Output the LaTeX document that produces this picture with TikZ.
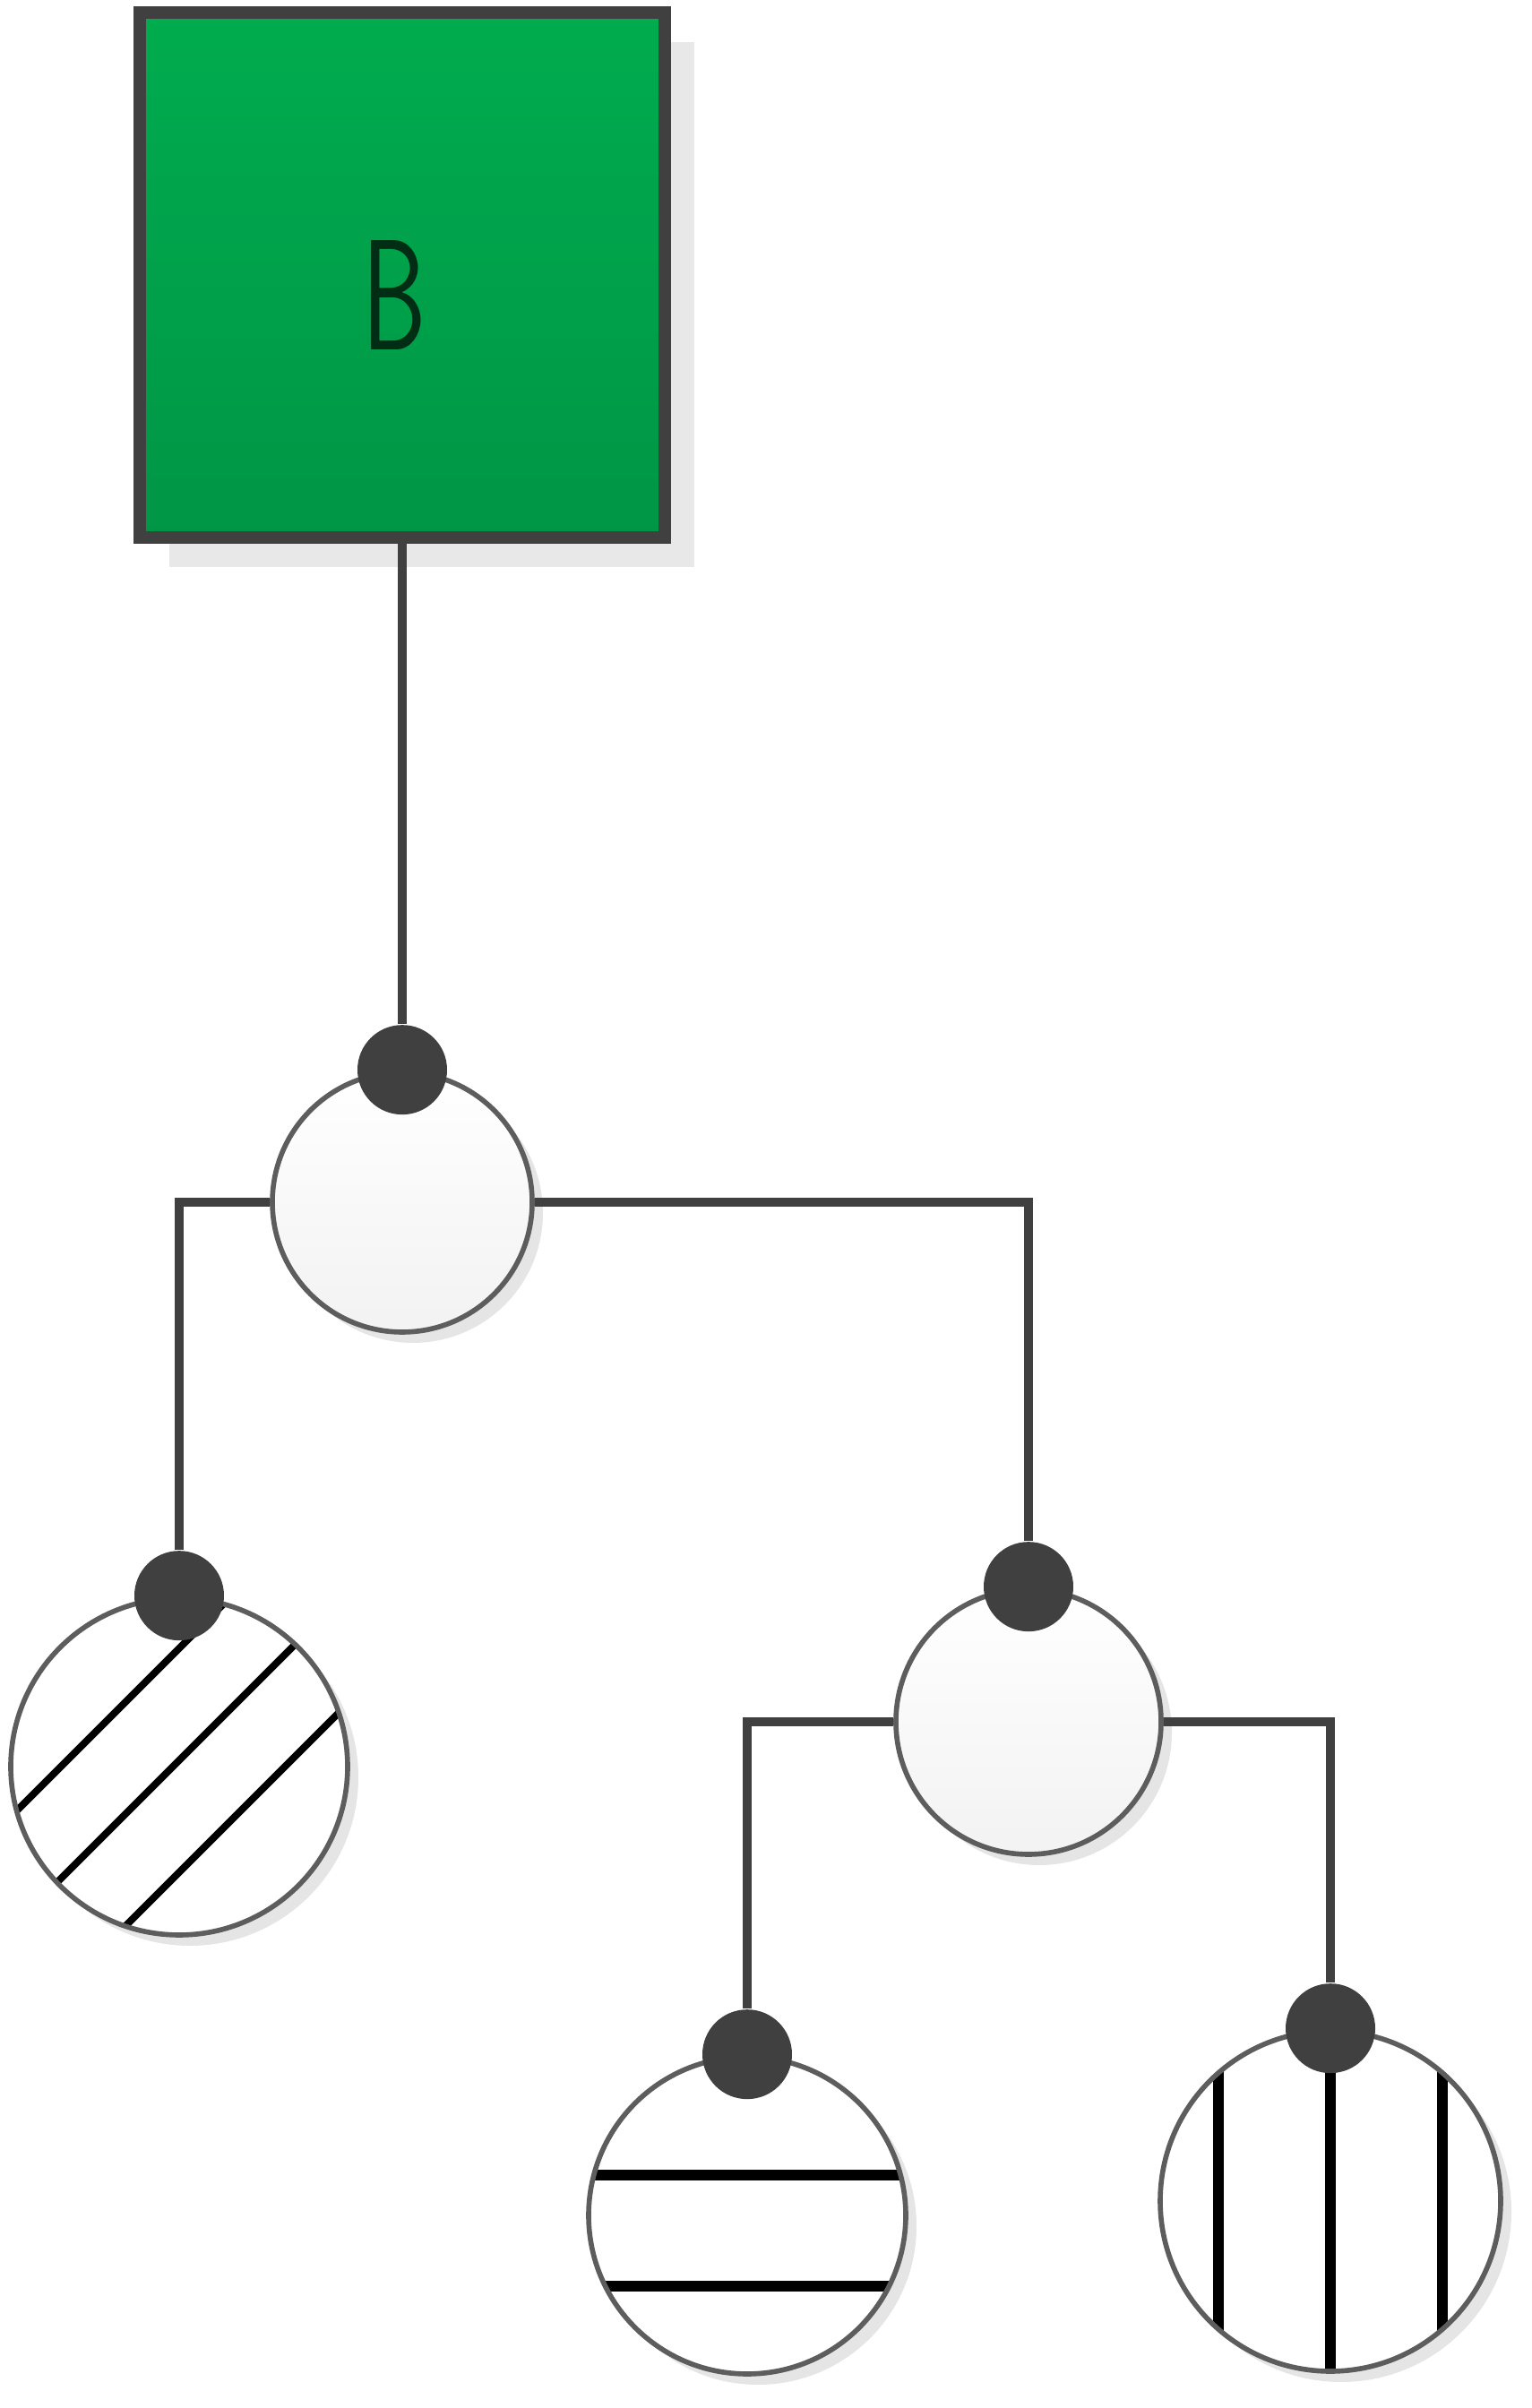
\documentclass[tikz,border=0pt]{standalone}
\usepackage{graphicx}
\definecolor{treegreen}{RGB}{0,172,78}
\definecolor{treegreendk}{RGB}{0,150,70}
\definecolor{treegray}{RGB}{64,64,64}
\definecolor{treetext}{RGB}{0,45,20}
\usetikzlibrary{shadows,calc}

\begin{document}
\begin{tikzpicture}[
  conn/.style={draw=treegray, line width=2.9pt},
  rootbox/.style={rectangle, draw=treegray, line width=4pt, top color=treegreen, bottom color=treegreendk, minimum size=5.86cm, inner sep=0pt,
    drop shadow={shadow xshift=0.33cm, shadow yshift=-0.33cm, fill=gray!18, opacity=1}},
  splitnode/.style={circle, draw=treegray!85, line width=1.6pt, top color=white, bottom color=gray!10, inner sep=0pt,
    drop shadow={shadow xshift=0.12cm, shadow yshift=-0.12cm, fill=black, opacity=0.1}},
  leafnode/.style={circle, draw=treegray!85, line width=1.6pt, fill=white, inner sep=0pt,
    drop shadow={shadow xshift=0.12cm, shadow yshift=-0.12cm, fill=black, opacity=0.1}},
  joint/.style={circle, fill=treegray, minimum size=1.0cm, inner sep=0pt},
  diaghatch/.style={path picture={
    \foreach \k in {-1.32,-0.07,1.18}
      \draw[black, line width=2.3pt] ($(path picture bounding box.center)+(\k-2.5,-2.5)$) -- ++(5,5);}},
  hhatch/.style={path picture={
    \foreach \k in {0.45,-0.79}
      \draw[black, line width=3.2pt] ($(path picture bounding box.center)+(-2.5,\k)$) -- ++(5,0);}},
  vhatch/.style={path picture={
    \foreach \k in {-1.25,0,1.25}
      \draw[black, line width=3.2pt] ($(path picture bounding box.center)+(\k,-2.5)$) -- ++(0,5);}}
]
  \useasboundingbox (0,0) rectangle (17.09,26.88);

  % Root block
  \node[rootbox] (root) at (4.49,23.81) {};
  \node[font=\sffamily\fontsize{50}{50}\selectfont, text=treetext, inner sep=0pt] (rootlbl) at ([xshift=-0.09cm,yshift=-0.23cm]root.center) {\scalebox{0.65}[1]{B}};

  % Split nodes
  \node[splitnode, minimum size=2.90cm] (s1) at (4.49,13.46) {};
  \node[splitnode, minimum size=2.96cm] (s2) at (11.48,7.66) {};

  % Leaf nodes
  \node[leafnode, diaghatch, minimum size=3.76cm] (l1) at (2.00,7.16) {};
  \node[leafnode, hhatch, minimum size=3.54cm] (l2) at (8.34,2.15) {};
  \node[leafnode, vhatch, minimum size=3.80cm] (l3) at (14.85,2.31) {};

  % Junction dots
  \node[joint] (j1) at (s1.north) {};
  \node[joint] (j2) at (s2.north) {};
  \node[joint] (j3) at (l1.north) {};
  \node[joint] (j4) at (l2.north) {};
  \node[joint] (j5) at (l3.north) {};

  \draw[conn] (root.south) -- (j1);
  \draw[conn] (s1.west) -| (j3);
  \draw[conn] (s1.east) -| (j2);
  \draw[conn] (s2.west) -| (j4);
  \draw[conn] (s2.east) -| (j5);
\end{tikzpicture}
\end{document}
